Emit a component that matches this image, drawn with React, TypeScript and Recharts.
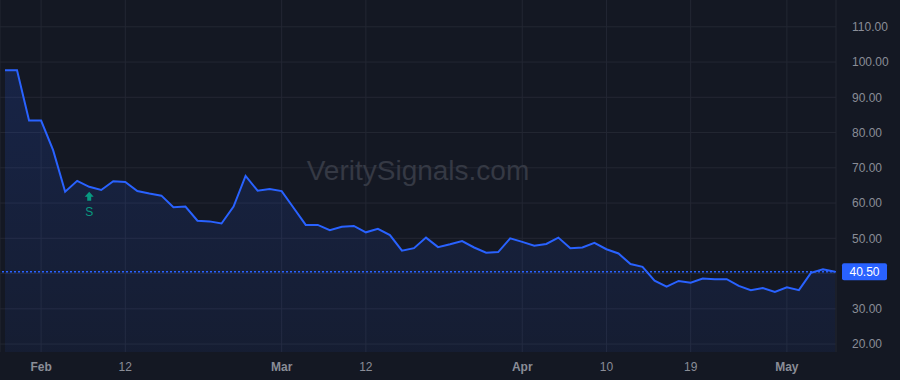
import React from "react";
import {
  ComposedChart,
  Area,
  XAxis,
  YAxis,
  CartesianGrid,
  ReferenceLine,
  ReferenceDot,
} from "recharts";

const dates = [
  "Jan 29", "Jan 30", "Jan 31", "Feb 1", "Feb 2", "Feb 5", "Feb 6", "Feb 7", "Feb 8", "Feb 9",
  "Feb 12", "Feb 13", "Feb 14", "Feb 15", "Feb 16", "Feb 20", "Feb 21", "Feb 22", "Feb 23", "Feb 26",
  "Feb 27", "Feb 28", "Feb 29", "Mar 1", "Mar 4", "Mar 5", "Mar 6", "Mar 7", "Mar 8", "Mar 11",
  "Mar 12", "Mar 13", "Mar 14", "Mar 15", "Mar 18", "Mar 19", "Mar 20", "Mar 21", "Mar 22", "Mar 25",
  "Mar 26", "Mar 27", "Mar 28", "Apr 1", "Apr 2", "Apr 3", "Apr 4", "Apr 5", "Apr 8", "Apr 9",
  "Apr 10", "Apr 11", "Apr 12", "Apr 15", "Apr 16", "Apr 17", "Apr 18", "Apr 19", "Apr 22", "Apr 23",
  "Apr 24", "Apr 25", "Apr 26", "Apr 29", "Apr 30", "May 1", "May 2", "May 3", "May 6", "May 7",
];

const prices = [
  97.7, 97.7, 83.4, 83.4, 75.0, 63.2, 66.3, 64.6, 63.7, 66.2,
  66.0, 63.4, 62.7, 62.1, 58.8, 59.0, 55.0, 54.8, 54.2, 59.0,
  67.7, 63.5, 64.0, 63.4, 58.6, 53.8, 53.8, 52.3, 53.3, 53.5,
  51.7, 52.7, 50.9, 46.5, 47.2, 50.2, 47.5, 48.3, 49.2, 47.4,
  45.9, 46.1, 50.0, 49.0, 47.9, 48.4, 50.2, 47.2, 47.4, 48.7,
  46.9, 45.7, 42.7, 41.9, 38.0, 36.3, 37.9, 37.4, 38.6, 38.4,
  38.4, 36.5, 35.3, 35.9, 34.8, 36.1, 35.3, 40.2, 41.2, 40.5,
];

const xTickIndex = [3, 10, 23, 30, 43, 50, 57, 65];
const xTickLabels = ["Feb", "12", "Mar", "12", "Apr", "10", "19", "May"];
const monthLabels = ["Feb", "Mar", "Apr", "May"];

const gridValues = [20, 30, 40, 50, 60, 70, 80, 90, 100, 110];
// 40.00 is hidden behind the last-price badge in the reference
const yTicks = [20, 30, 50, 60, 70, 80, 90, 100, 110];
const yDomain = [17.75, 117.6];

const signalIndex = [7];
const signalText = ["S"];

const watermark = "VeritySignals.com";

const data = prices.map((p, i) => ({ i, date: dates[i], price: p }));
const lastPrice = prices[prices.length - 1];

const BG = "#141823";
const BLUE = "#2962ff";
const GRID = "#232733";
const TEXT = "#8a8d97";
const GREEN = "#089981";
const FONT = "'Liberation Sans', Arial, sans-serif";

const XTick = (props: any) => {
  const { x, y, payload } = props;
  const idx = xTickIndex.indexOf(payload.value);
  const label = idx >= 0 ? xTickLabels[idx] : "";
  const bold = monthLabels.includes(label);
  return (
    <text
      x={x}
      y={y}
      dy="0.71em"
      textAnchor="middle"
      fill={TEXT}
      fontSize={12}
      fontWeight={bold ? 700 : 400}
      fontFamily={FONT}
    >
      {label}
    </text>
  );
};

const YTick = (props: any) => {
  const { x, y, payload } = props;
  return (
    <text
      x={x}
      y={y}
      dy="0.355em"
      textAnchor="start"
      fill={TEXT}
      fontSize={12}
      fontFamily={FONT}
    >
      {Number(payload.value).toFixed(2)}
    </text>
  );
};

const PriceLabel = (props: any) => {
  const vb = props.viewBox || {};
  const x0 = vb.x + vb.width + 6;
  const yc = vb.y;
  return (
    <g>
      <rect x={x0} y={yc - 8.5} width={45} height={17} rx={2} fill={BLUE} />
      <text
        x={x0 + 22.5}
        y={yc}
        dy="0.355em"
        textAnchor="middle"
        fill="#ffffff"
        fontSize={12}
        fontFamily={FONT}
      >
        {lastPrice.toFixed(2)}
      </text>
    </g>
  );
};

const makeSignalShape = (label: string) => (props: any) => {
  const { cx, cy } = props;
  return (
    <g>
      <path
        d={`M${cx},${cy + 5} L${cx + 4.5},${cy + 10} L${cx + 2},${cy + 10} L${cx + 2},${cy + 14} L${cx - 2},${cy + 14} L${cx - 2},${cy + 10} L${cx - 4.5},${cy + 10} Z`}
        fill={GREEN}
      />
      <text
        x={cx}
        y={cy + 25}
        dy="0.355em"
        textAnchor="middle"
        fill={GREEN}
        fontSize={12}
        fontFamily={FONT}
      >
        {label}
      </text>
    </g>
  );
};

export default function App() {
  return (
    <div
      style={{
        position: "fixed",
        left: 0,
        top: 0,
        width: 900,
        height: 380,
        background: BG,
        overflow: "hidden",
      }}
    >
      <ComposedChart
        width={900}
        height={380}
        data={data}
        margin={{ top: 0, right: 0, bottom: 0, left: 0 }}
      >
        <defs>
          <linearGradient id="areaFill" x1="0" y1="0" x2="0" y2="1">
            <stop offset="0%" stopColor={BLUE} stopOpacity={0.16} />
            <stop offset="100%" stopColor={BLUE} stopOpacity={0.07} />
          </linearGradient>
        </defs>
        <CartesianGrid stroke={GRID} strokeWidth={1} horizontalValues={gridValues} />
        <XAxis
          dataKey="i"
          type="number"
          domain={["dataMin", "dataMax"]}
          padding={{ left: 5, right: 1 }}
          ticks={xTickIndex}
          interval={0}
          height={28}
          axisLine={false}
          tickLine={false}
          tickSize={6}
          tickMargin={4}
          tick={<XTick />}
        />
        <YAxis
          orientation="right"
          type="number"
          domain={yDomain}
          allowDataOverflow
          ticks={yTicks}
          interval={0}
          width={64}
          axisLine={false}
          tickLine={false}
          tickSize={6}
          tickMargin={10}
          tick={<YTick />}
        />
        <Area
          type="linear"
          dataKey="price"
          stroke={BLUE}
          strokeWidth={2}
          fill="url(#areaFill)"
          fillOpacity={1}
          dot={false}
          activeDot={false}
          isAnimationActive={false}
        />
        <ReferenceLine
          y={lastPrice}
          stroke={BLUE}
          strokeWidth={1.5}
          strokeDasharray="2 2"
          label={<PriceLabel />}
        />
        {signalIndex.map((si, k) => (
          <ReferenceDot
            key={k}
            x={si}
            y={prices[si]}
            r={0}
            shape={makeSignalShape(signalText[k])}
          />
        ))}
      </ComposedChart>
      <div
        style={{
          position: "absolute",
          left: 0,
          top: 155,
          width: 836,
          textAlign: "center",
          fontFamily: FONT,
          fontSize: 28,
          color: "#353944",
          pointerEvents: "none",
          whiteSpace: "nowrap",
        }}
      >
        {watermark}
      </div>
    </div>
  );
}
